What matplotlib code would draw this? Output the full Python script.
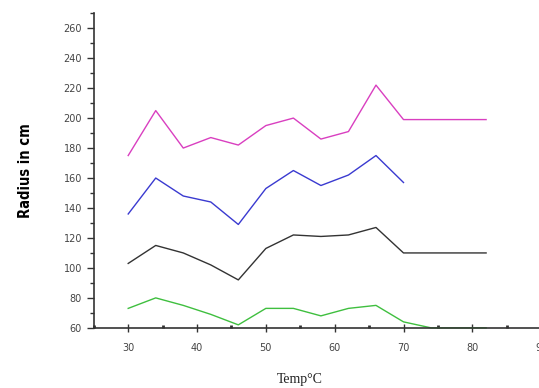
import matplotlib
matplotlib.use("Agg")
import matplotlib.pyplot as plt
from matplotlib.ticker import MultipleLocator

# --- data ---
temp = [30, 34, 38, 42, 46, 50, 54, 58, 62, 66, 70, 74, 78, 82]
temp_blue = temp[:11]

radius_magenta = [175, 205, 180, 187, 182, 195, 200, 186, 191, 222, 199, 199, 199, 199]
radius_blue    = [136, 160, 148, 144, 129, 153, 165, 155, 162, 175, 157]
radius_black   = [103, 115, 110, 102, 92, 113, 122, 121, 122, 127, 110, 110, 110, 110]
radius_green   = [73, 80, 75, 69, 62, 73, 73, 68, 73, 75, 64, 60, 60, 60]

fig = plt.figure(figsize=(5.39, 3.88), dpi=100)
ax = fig.add_axes([0.174, 0.155, 0.830, 0.811])

ax.plot(temp, radius_magenta, color="#d93fc0", lw=1.0)
ax.plot(temp_blue, radius_blue, color="#3a3ad0", lw=1.0)
ax.plot(temp, radius_black, color="#333333", lw=1.0)
ax.plot(temp, radius_green, color="#3fbf3f", lw=1.0, clip_on=False)

ax.set_xlim(25, 90)
ax.set_ylim(60, 270)
ax.xaxis.set_major_locator(MultipleLocator(10))
ax.xaxis.set_minor_locator(MultipleLocator(5))
ax.yaxis.set_major_locator(MultipleLocator(20))
ax.yaxis.set_minor_locator(MultipleLocator(10))
ax.set_yticks(range(60, 261, 20))

for s in ("top", "right"):
    ax.spines[s].set_visible(False)
for s in ("left", "bottom"):
    ax.spines[s].set_color("#333333")
    ax.spines[s].set_linewidth(1.2)

ax.tick_params(axis="y", which="major", direction="out", length=5, width=1,
               labelsize=7, labelcolor="#444444", color="#333333")
ax.tick_params(axis="y", which="minor", direction="out", length=3, width=1,
               color="#333333")
ax.tick_params(axis="x", which="major", direction="inout", length=6, width=1,
               labelsize=7, labelcolor="#444444", color="#333333", pad=8)
ax.tick_params(axis="x", which="minor", direction="in", length=2, width=2,
               color="#333333")

ax.set_ylabel("Radius in cm", fontsize=10.5, fontweight="bold",
              fontstretch="condensed", family="DejaVu Sans", labelpad=22)
fig.text(0.557, 0.004, "Temp°C", fontsize=10, family="Liberation Serif",
         ha="center", va="bottom", color="#222222")

fig.savefig("out.png", dpi=100)
